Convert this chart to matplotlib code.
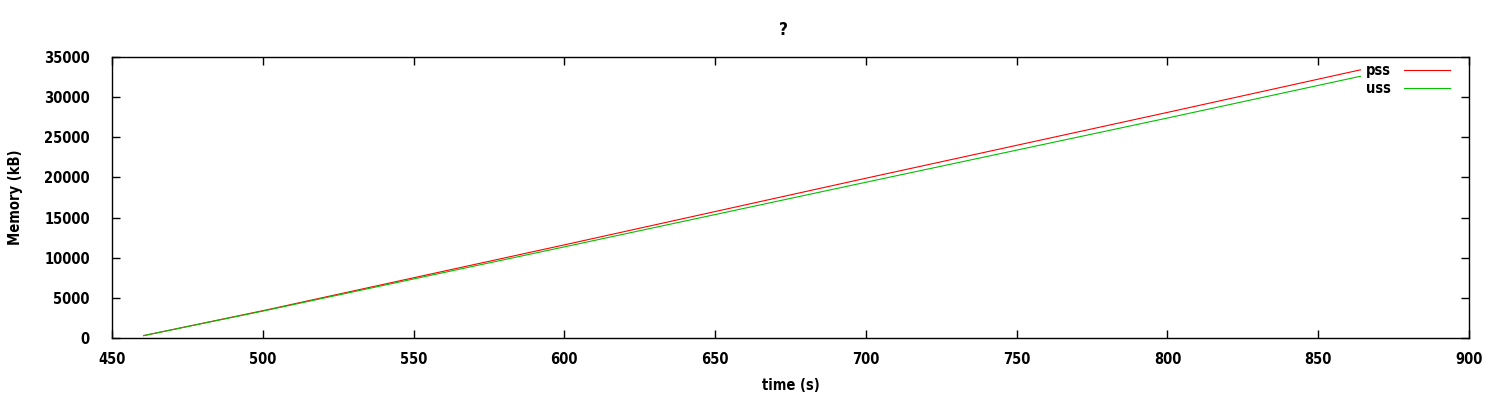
import matplotlib
matplotlib.use("Agg")
import matplotlib.pyplot as plt

# values
time_s = [460.5, 500, 600, 700, 800, 864]
pss = [300, 3400, 11600, 19900, 28100, 33400]
uss = [300, 3350, 11350, 19400, 27400, 32600]

plt.rcParams.update({'font.size': 10.5, 'font.family': 'DejaVu Sans',
                     'font.weight': 'bold', 'font.stretch': 'condensed'})

fig = plt.figure(figsize=(15, 4), dpi=100)
ax = fig.add_axes([112 / 1500, 1 - 338 / 400, (1469 - 112) / 1500, (338 - 57) / 400])

ax.plot(time_s, pss, color='#ff0000', lw=0.8, label='pss')
ax.plot(time_s, uss, color='#00c000', lw=0.8, label='uss')

ax.set_xlim(450, 900)
ax.set_ylim(0, 35000)
ax.set_xticks(range(450, 901, 50))
ax.set_yticks(range(0, 35001, 5000))
ax.tick_params(direction='in', length=6, top=True, right=True, width=1)
ax.tick_params(axis='y', pad=16)
ax.tick_params(axis='x', pad=10)
for s in ax.spines.values():
    s.set_linewidth(1)

ax.set_xlabel('time (s)', fontweight='bold')
ax.set_ylabel('Memory (kB)', fontweight='bold')
ax.xaxis.set_label_coords(0.5, -0.143)
ax.yaxis.set_label_coords(-0.0656, 0.5)
ax.set_title('?', fontweight='bold', x=0.495, pad=16)

ax.legend(loc='upper right', bbox_to_anchor=(0.990, 1.0), frameon=False, markerfirst=False,
          handlelength=3.1, borderaxespad=0, labelspacing=0.25, handletextpad=0.9)

fig.savefig('out.png')
